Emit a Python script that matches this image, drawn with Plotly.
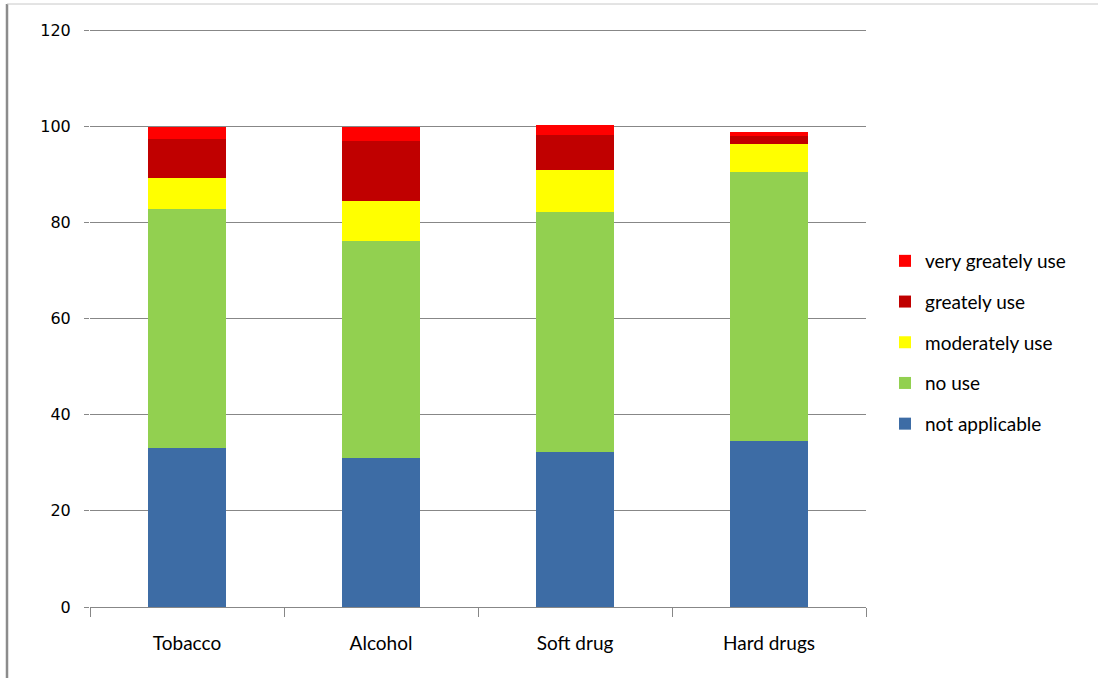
import plotly.graph_objects as go

categories = ["Tobacco", "Alcohol", "Soft drug", "Hard drugs"]
not_applicable = [33.1, 31.0, 32.2, 34.5]
no_use = [49.7, 45.1, 50.0, 56.0]
moderately_use = [6.4, 8.3, 8.7, 5.8]
greately_use = [8.1, 12.5, 7.3, 1.7]
very_greately_use = [2.5, 2.9, 2.0, 0.8]

series = [
    ("not applicable", not_applicable, "#3D6CA5"),
    ("no use", no_use, "#92D050"),
    ("moderately use", moderately_use, "#FFFF00"),
    ("greately use", greately_use, "#C00000"),
    ("very greately use", very_greately_use, "#FF0000"),
]

fig = go.Figure()
for i, (name, vals, col) in enumerate(series):
    fig.add_trace(go.Bar(x=categories, y=vals, name=name, marker_color=col,
                         marker_line_width=0, legendgroup=f"g{i}", legendrank=10 - i))

W, H = 1098, 678
L, R, T, B = 90, 232, 28, 71
pw, ph = W - L - R, H - T - B
ytop = 120 * (H - B - T) / (H - B - 30)

fig.update_layout(
    width=W, height=H, barmode="stack", bargap=0.6,
    margin=dict(l=L, r=R, t=T, b=B, autoexpand=False),
    paper_bgcolor="white", plot_bgcolor="white",
    font=dict(family="Lato", size=19, color="#000000"),
    legend=dict(x=(885 - L) / pw, xanchor="left", y=(H - B - 242) / ph,
                yanchor="top", traceorder="grouped", tracegroupgap=13,
                itemwidth=30, font=dict(family="Lato", size=19), bgcolor="rgba(0,0,0,0)"),
    xaxis=dict(showgrid=False, showline=True, linecolor="#878787", linewidth=1,
               ticks="outside", tickson="boundaries", ticklen=9, tickcolor="#878787",
               tickfont=dict(family="Lato", size=19, color="#000000"), ticklabelstandoff=19),
    yaxis=dict(range=[0, ytop], tickvals=[0, 20, 40, 60, 80, 100, 120], showgrid=True,
               gridcolor="#878787", gridwidth=1,
               showline=False, zeroline=False, ticks="outside", ticklen=5, tickcolor="#878787",
               tickfont=dict(family="DejaVu Sans", size=16, color="#000000"), ticklabelstandoff=10),
    shapes=[
        dict(type="line", xref="paper", yref="paper", x0=(7 - L) / pw, x1=(7 - L) / pw,
             y0=(B - H) / ph, y1=1 + (T - 4) / ph, line=dict(color="#8C8C8C", width=2.5)),
        dict(type="line", xref="paper", yref="paper", x0=(7 - L) / pw, x1=(W - L) / pw,
             y0=1 + (T - 4) / ph, y1=1 + (T - 4) / ph, line=dict(color="#C8C8C8", width=1)),
    ],
)

fig.write_html("out.html")
